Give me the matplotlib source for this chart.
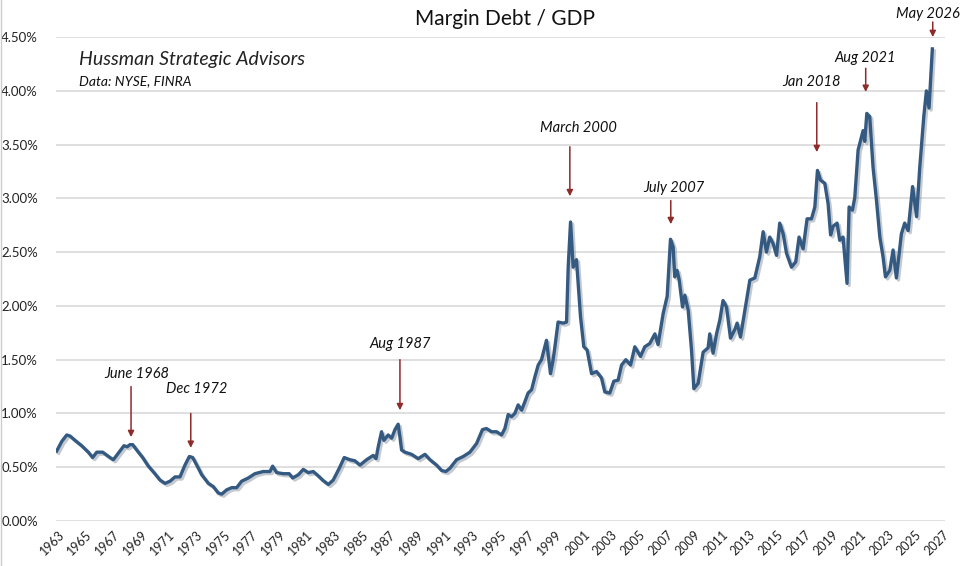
import matplotlib
matplotlib.use("Agg")
import matplotlib.pyplot as plt
import matplotlib.patheffects as pe
from matplotlib.ticker import FuncFormatter

plt.rcParams['font.family'] = ['Lato', 'DejaVu Sans']

# margin debt as % of GDP (decimal year, percent)
years = [
    1962.9, 1963.27, 1963.63, 1963.87, 1964.23, 1964.71, 1965.19, 1965.5, 1965.8, 1966.23,
    1966.76, 1967.0, 1967.36, 1967.77, 1968.0, 1968.2, 1968.4, 1968.69, 1969.12, 1969.53,
    1969.94, 1970.38, 1970.74, 1971.1, 1971.46, 1971.82, 1972.18, 1972.5, 1972.74, 1973.03,
    1973.39, 1973.87, 1974.23, 1974.59, 1974.84, 1975.2, 1975.56, 1975.92, 1976.28, 1976.76,
    1977.24, 1977.84, 1978.33, 1978.52, 1978.81, 1979.29, 1979.72, 1979.97, 1980.38, 1980.74,
    1981.1, 1981.46, 1981.82, 1982.14, 1982.55, 1982.9, 1983.34, 1983.7, 1984.11, 1984.47,
    1984.84, 1985.32, 1985.8, 1986.0, 1986.16, 1986.4, 1986.57, 1986.88, 1987.13, 1987.37,
    1987.6, 1987.73, 1987.85, 1988.09, 1988.57, 1989.05, 1989.54, 1989.9, 1990.38, 1990.74,
    1991.05, 1991.34, 1991.83, 1992.31, 1992.79, 1993.27, 1993.7, 1993.99, 1994.36, 1994.72,
    1995.08, 1995.32, 1995.56, 1995.8, 1996.04, 1996.28, 1996.53, 1996.77, 1997.0, 1997.25,
    1997.49, 1997.73, 1997.97, 1998.33, 1998.62, 1998.81, 1998.94, 1999.17, 1999.54, 1999.78,
    1999.9, 2000.07, 2000.26, 2000.5, 2000.79, 2001.03, 2001.27, 2001.59, 2001.95, 2002.31,
    2002.55, 2002.91, 2003.2, 2003.51, 2003.76, 2004.07, 2004.41, 2004.72, 2005.13, 2005.44,
    2005.8, 2006.17, 2006.4, 2006.77, 2007.06, 2007.3, 2007.49, 2007.61, 2007.78, 2007.93,
    2008.17, 2008.34, 2008.58, 2008.82, 2008.99, 2009.3, 2009.66, 2010.02, 2010.14, 2010.38,
    2010.63, 2010.87, 2011.1, 2011.35, 2011.64, 2011.95, 2012.12, 2012.36, 2012.68, 2013.04,
    2013.4, 2013.76, 2014.0, 2014.24, 2014.48, 2014.72, 2014.97, 2015.2, 2015.45, 2015.69,
    2016.05, 2016.36, 2016.6, 2016.89, 2017.18, 2017.5, 2017.74, 2017.93, 2018.15, 2018.46,
    2018.7, 2018.88, 2019.06, 2019.35, 2019.54, 2019.78, 2020.07, 2020.22, 2020.46, 2020.63,
    2020.87, 2021.23, 2021.35, 2021.5, 2021.71, 2021.95, 2022.2, 2022.44, 2022.67, 2022.85,
    2023.16, 2023.4, 2023.64, 2024.0, 2024.24, 2024.49, 2024.81, 2025.1, 2025.33, 2025.62,
    2025.81, 2026.0, 2026.24,
]
margin_gdp = [
    0.65, 0.74, 0.80, 0.79, 0.75, 0.70, 0.64, 0.59, 0.64, 0.64,
    0.59, 0.57, 0.63, 0.70, 0.69, 0.71, 0.71, 0.66, 0.59, 0.51,
    0.45, 0.38, 0.35, 0.37, 0.41, 0.41, 0.52, 0.60, 0.59, 0.52,
    0.43, 0.35, 0.32, 0.26, 0.25, 0.29, 0.31, 0.31, 0.37, 0.40,
    0.44, 0.46, 0.46, 0.51, 0.45, 0.44, 0.44, 0.40, 0.43, 0.48,
    0.45, 0.46, 0.42, 0.38, 0.34, 0.38, 0.49, 0.59, 0.57, 0.56,
    0.52, 0.57, 0.61, 0.58, 0.69, 0.83, 0.75, 0.80, 0.77, 0.85,
    0.90, 0.78, 0.66, 0.64, 0.62, 0.58, 0.62, 0.57, 0.52, 0.47,
    0.46, 0.49, 0.57, 0.60, 0.64, 0.72, 0.85, 0.86, 0.83, 0.83,
    0.80, 0.86, 0.99, 0.97, 1.00, 1.08, 1.03, 1.11, 1.19, 1.22,
    1.34, 1.45, 1.50, 1.68, 1.37, 1.50, 1.62, 1.85, 1.84, 1.85,
    2.36, 2.78, 2.36, 2.43, 1.90, 1.62, 1.59, 1.37, 1.39, 1.33,
    1.20, 1.19, 1.30, 1.31, 1.45, 1.50, 1.45, 1.62, 1.53, 1.62,
    1.65, 1.74, 1.64, 1.93, 2.09, 2.62, 2.55, 2.27, 2.33, 2.24,
    1.99, 2.10, 1.96, 1.59, 1.23, 1.28, 1.57, 1.61, 1.74, 1.56,
    1.74, 1.87, 2.05, 1.99, 1.70, 1.78, 1.84, 1.71, 1.96, 2.24,
    2.26, 2.46, 2.69, 2.50, 2.64, 2.58, 2.47, 2.77, 2.67, 2.49,
    2.36, 2.41, 2.64, 2.53, 2.81, 2.81, 2.92, 3.26, 3.17, 3.14,
    2.95, 2.66, 2.74, 2.77, 2.61, 2.64, 2.21, 2.92, 2.89, 3.01,
    3.45, 3.63, 3.53, 3.79, 3.76, 3.29, 2.98, 2.64, 2.46, 2.27,
    2.33, 2.52, 2.26, 2.67, 2.77, 2.70, 3.11, 2.83, 3.29, 3.76,
    4.00, 3.84, 4.39,
]

# annotations: label, arrow x, arrow start y, arrow tip y, text x, text y
notes = [
    ("June 1968", 1968.28, 1.25, 0.78, 1968.7, 1.37),
    ("Dec 1972", 1972.6, 1.00, 0.68, 1973.05, 1.23),
    ("Aug 1987", 1987.73, 1.50, 1.03, 1987.73, 1.65),
    ("March 2000", 2000.02, 3.48, 3.02, 2000.67, 3.65),
    ("July 2007", 2007.32, 2.98, 2.76, 2007.54, 3.10),
    ("Jan 2018", 2017.88, 3.89, 3.43, 2017.52, 4.08),
    ("Aug 2021", 2021.42, 4.21, 3.99, 2021.35, 4.31),
    ("May 2026", 2026.27, 4.64, 4.50, 2025.91, 4.71),
]

line_color = '#355a82'
arrow_color = '#8e2b2b'

fig = plt.figure(figsize=(9.6, 5.66), dpi=100)
ax = fig.add_axes([0.0583, 0.0795, 0.926, 0.855])

ax.plot(years, margin_gdp, color=line_color, lw=2.4, solid_joinstyle='round',
        path_effects=[pe.SimpleLineShadow(offset=(1.5, -1.5), shadow_color='#7f8a99', alpha=0.45),
                      pe.Normal()], zorder=3)

ax.set_xlim(1962.85, 2027.15)
ax.set_ylim(0, 4.5)
ax.set_yticks([i * 0.5 for i in range(10)])
ax.yaxis.set_major_formatter(FuncFormatter(lambda v, p: f"{v:.2f}%"))
ax.set_xticks(range(1963, 2028, 2))
ax.grid(axis='y', color='#d9d9d9', lw=1.2)
ax.set_axisbelow(True)
for s in ax.spines.values():
    s.set_visible(False)
ax.tick_params(axis='both', length=0, colors='#222222', labelsize=9.5)
ax.tick_params(axis='y', pad=13)
ax.tick_params(axis='x', pad=5)
for lab in ax.get_xticklabels():
    lab.set_rotation(45)
    lab.set_ha('right')
    lab.set_va('top')
    lab.set_rotation_mode('anchor')
    lab.set_fontsize(9)

for label, ax_x, y0, y1, tx, ty in notes:
    ax.annotate('', xy=(ax_x, y1), xytext=(ax_x, y0),
                arrowprops=dict(arrowstyle='-|>', color=arrow_color, lw=1.1,
                                mutation_scale=9, shrinkA=0, shrinkB=0),
                annotation_clip=False)
    ax.text(tx, ty, label, ha='center', va='center', fontsize=10.5,
            style='italic', color='#111111', clip_on=False)

fig.text(0.526, 0.967, "Margin Debt / GDP", ha='center', va='center',
         fontsize=15, color='#111111')
fig.text(0.082, 0.894, "Hussman Strategic Advisors", ha='left', va='center',
         fontsize=14, style='italic', color='#222222')
fig.text(0.082, 0.857, "Data: NYSE, FINRA", ha='left', va='center',
         fontsize=10, style='italic', color='#111111')

fig.add_artist(plt.Line2D([0.001, 0.001], [0, 1], color='#cccccc', lw=1))

fig.savefig('out.png', dpi=100, facecolor='white')
